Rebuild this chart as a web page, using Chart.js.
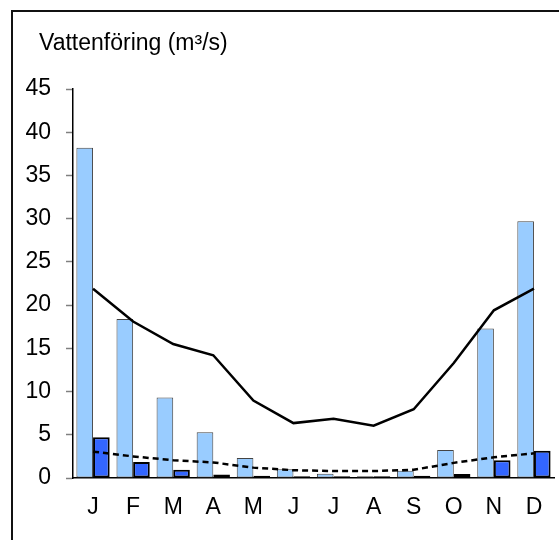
<!DOCTYPE html>
<html>
<head>
<meta charset="utf-8">
<script src="https://cdn.jsdelivr.net/npm/chart.js@4/dist/chart.umd.min.js"></script>
<style>
  html, body { margin: 0; padding: 0; background: #fff; }
  #wrap { width: 559px; height: 540px; }
</style>
</head>
<body>
<div id="wrap"><canvas id="myChart" width="559" height="540"></canvas></div>
<script>
var months = ["J", "F", "M", "A", "M", "J", "J", "A", "S", "O", "N", "D"];
var yTicks = [0, 5, 10, 15, 20, 25, 30, 35, 40, 45];
var titleText = "Vattenföring (m³/s)";

// monthly flow, two years as bars, two means as lines
var flowHigh = [38.2, 18.4, 9.3, 5.3, 2.3, 1.0, 0.5, 0.2, 0.85, 3.25, 17.3, 29.7];
var flowLow = [4.7, 1.85, 0.95, 0.4, 0.25, 0.2, 0.2, 0.2, 0.25, 0.45, 2.05, 3.15];
var meanHigh = [21.9, 18.1, 15.5, 14.2, 8.95, 6.35, 6.85, 6.05, 7.95, 13.3, 19.4, 21.9];
var meanLow = [3.05, 2.5, 2.05, 1.8, 1.2, 0.9, 0.8, 0.8, 0.95, 1.75, 2.4, 2.85];

var font = { family: "'Liberation Sans', Arial, sans-serif", size: 23 };

var framePlugin = {
  id: "frame",
  beforeDraw: function (chart) {
    var ctx = chart.ctx;
    ctx.save();
    ctx.fillStyle = "#fff";
    ctx.fillRect(0, 0, chart.width, chart.height);
    ctx.strokeStyle = "#111";
    ctx.lineWidth = 2;
    ctx.beginPath();
    ctx.moveTo(12, chart.height + 2);
    ctx.lineTo(12, 11);
    ctx.lineTo(chart.width + 2, 11);
    ctx.stroke();
    ctx.fillStyle = "#000";
    ctx.font = font.size + "px " + font.family;
    ctx.textBaseline = "alphabetic";
    ctx.fillText(titleText, 39, 50);
    ctx.restore();
  },
};

function createChart() {
  var ctx = document.getElementById("myChart").getContext("2d");
  new Chart(ctx, {
    type: "bar",
    data: {
      labels: months,
      datasets: [
        {
          label: "Högflöde",
          data: flowHigh,
          backgroundColor: "#99CCFF",
          borderColor: "#444",
          borderWidth: 1,
          borderSkipped: false,
          order: 2,
        },
        {
          label: "Lågflöde",
          data: flowLow,
          backgroundColor: "#3366FF",
          borderColor: "#000",
          borderWidth: 2,
          borderSkipped: false,
          order: 2,
        },
        {
          type: "line",
          label: "Medel",
          data: meanHigh,
          borderColor: "#000",
          borderWidth: 2.5,
          pointRadius: 0,
          tension: 0,
          order: 1,
        },
        {
          type: "line",
          label: "Medel låg",
          data: meanLow,
          borderColor: "#000",
          borderWidth: 2.5,
          borderDash: [6, 4],
          pointRadius: 0,
          tension: 0,
          order: 1,
        },
      ],
    },
    options: {
      responsive: false,
      animation: false,
      layout: { padding: { top: 89, right: 5, bottom: 0, left: 0 } },
      plugins: { legend: { display: false }, tooltip: { enabled: false } },
      datasets: { bar: { categoryPercentage: 0.83, barPercentage: 1.0 } },
      scales: {
        x: {
          grid: { drawOnChartArea: false, drawTicks: false },
          border: { color: "#000", width: 1.5 },
          ticks: { color: "#000", font: font, padding: 16, maxRotation: 0, autoSkip: false },
          afterFit: function (scale) { scale.height = 62; },
        },
        y: {
          min: 0,
          max: 45,
          afterBuildTicks: function (scale) {
            scale.ticks = yTicks.map(function (v) { return { value: v }; });
          },
          grid: { drawOnChartArea: false, drawTicks: true, tickLength: 7, tickColor: "#808080", tickWidth: 1.5 },
          border: { color: "#000", width: 1.5 },
          ticks: { color: "#000", font: font, padding: 15 },
          afterFit: function (scale) { scale.width = 73; },
        },
      },
    },
    plugins: [framePlugin],
  });
}
createChart();
</script>
</body>
</html>
